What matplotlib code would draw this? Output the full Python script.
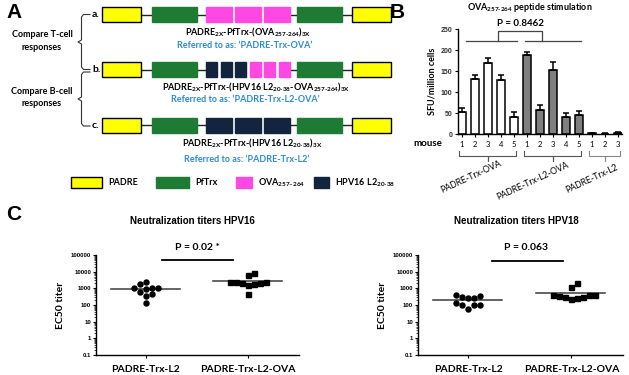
import numpy as np
import matplotlib.pyplot as plt
import matplotlib.transforms as mtrans
from matplotlib.patches import Rectangle
from matplotlib.ticker import FixedLocator, LogLocator, NullFormatter

plt.rcParams['font.family'] = ['Lato', 'DejaVu Sans']
plt.rcParams['mathtext.fontset'] = 'custom'
plt.rcParams['mathtext.rm'] = 'Lato:bold'
plt.rcParams['mathtext.bf'] = 'Lato:bold'

# ---------------- data ----------------
# panel A: construct layouts
constructs = [['PADRE', 'PfTrx', 'OVA', 'OVA', 'OVA', 'PfTrx', 'PADRE'],
              ['PADRE', 'PfTrx', 'L2', 'L2', 'L2', 'OVA', 'OVA', 'OVA', 'PfTrx', 'PADRE'],
              ['PADRE', 'PfTrx', 'L2', 'L2', 'L2', 'PfTrx', 'PADRE']]
construct_names = [r'PADRE$_{\text{2X}}$-PfTrx-(OVA$_{\text{257-264}}$)$_{\text{3X}}$',
                   r'PADRE$_{\text{2X}}$-PfTrx-(HPV16 L2$_{\text{20-38}}$-OVA$_{\text{257-264}}$)$_{\text{3X}}$',
                   r'PADRE$_{\text{2X}}$-PfTrx-(HPV16 L2$_{\text{20-38}}$)$_{\text{3X}}$']
construct_alias = ["Referred to as: \u2018PADRE-Trx-OVA\u2019",
                   "Referred to as: \u2018PADRE-Trx-L2-OVA\u2019",
                   "Referred to as: \u2018PADRE-Trx-L2\u2019"]
legend_labels = ['PADRE', 'PfTrx', 'OVA$_{\\text{257\u2013264}}$', r'HPV16 L2$_{\text{20-38}}$']
legend_keys = ['PADRE', 'PfTrx', 'OVA', 'L2']

# panel B: ELISPOT
group_names = ['PADRE-Trx-OVA', 'PADRE-Trx-L2-OVA', 'PADRE-Trx-L2']
mouse_ids = [['1', '2', '3', '4', '5'], ['1', '2', '3', '4', '5'], ['1', '2', '3']]
sfu_mean = [[54, 132, 170, 129, 42], [189, 58, 153, 42, 46], [2, 1, 4]]
sfu_err = [[8, 8, 10, 12, 12], [6, 12, 18, 8, 9], [1, 1, 2]]
p_elispot = 'P = 0.8462'

# panel C: neutralization titers
titer_groups = ['PADRE-Trx-L2', 'PADRE-Trx-L2-OVA']
hpv16_l2 = [1750, 1000, 2300, 950, 480, 360, 600, 1000, 1100, 125]
hpv16_l2ova = [2500, 2000, 1750, 1500, 6000, 7900, 2000, 2300, 2500, 440]
hpv16_line = [870, 2800]
hpv18_l2 = [320, 360, 250, 400, 250, 100, 57, 100, 130, 100]
hpv18_l2ova = [1150, 2000, 415, 316, 250, 230, 415, 290, 330, 415]
hpv18_line = [200, 530]
p_hpv16 = 'P = 0.02 *'
p_hpv18 = 'P = 0.063'
titer_ticks = [0.1, 1, 10, 100, 1000, 10000, 100000]

# ---------------- style ----------------
colors = {'PADRE': '#ffff00', 'PfTrx': '#1e7b34', 'OVA': '#ff47e3', 'L2': '#13243f'}
blue = '#2b8ad6'

fig = plt.figure(figsize=(6.29, 3.75), dpi=100)
ax0 = fig.add_axes([0, 0, 1, 1])
ax0.set_xlim(0, 629)
ax0.set_ylim(375, 0)
ax0.axis('off')

# ---------------- panel A ----------------
ax0.text(14, 12, 'A', fontsize=15, fontweight='bold', family='Liberation Sans', ha='center', va='center')
row_y = [14.5, 69.5, 125]
box_h = 15
for r, parts in enumerate(constructs):
    y = row_y[r]
    n_epi = sum(p in ('OVA', 'L2') for p in parts)
    epi_w = (84 - (n_epi - 1) * 3.5) / n_epi
    seg_start = {'PADRE': [102, 352], 'PfTrx': [152, 297]}
    seen = {'PADRE': 0, 'PfTrx': 0}
    ex = 206
    prev_end = None
    for p in parts:
        if p in seen:
            x0 = seg_start[p][seen[p]]
            seen[p] += 1
            w = 39 if p == 'PADRE' else 45
        else:
            x0 = ex
            w = epi_w
            ex += epi_w + 3.5
        if prev_end is not None and x0 - prev_end > 4:
            ax0.plot([prev_end, x0], [y, y], color='#222222', lw=1, zorder=1)
        ec = 'black' if p == 'PADRE' else colors[p]
        ax0.add_patch(Rectangle((x0, y - box_h / 2), w, box_h, facecolor=colors[p],
                                edgecolor=ec, lw=1, zorder=2))
        prev_end = x0 + w
    ax0.text(92, y, 'abc'[r] + '.', fontsize=7.5, fontweight='bold', va='center', ha='left')

name_pos = [(248, 32), (256, 87.5), (252, 143)]
alias_pos = [(245, 46), (245, 100), (246.5, 159)]
for r in range(3):
    ax0.text(*name_pos[r], construct_names[r], fontsize=6.5, fontweight='bold', ha='center', va='center')
    ax0.text(*alias_pos[r], construct_alias[r], fontsize=6.5, fontweight='bold', color=blue,
             ha='center', va='center')

# braces on the left
for y0, y1 in [(14.5, 69.5), (72, 126)]:
    ym = (y0 + y1) / 2
    ax0.plot([90, 83.5, 81.5, 81.5, 78, 81.5, 81.5, 83.5, 90],
             [y0, y0, y0 + 2.5, ym - 2, ym, ym + 2, y1 - 2.5, y1, y1],
             color='#333333', lw=0.8)
ax0.text(42, 41, 'Compare T-cell\nresponses', fontsize=6.5, fontweight='bold', ha='center',
         va='center', linespacing=1.5)
ax0.text(42, 97.5, 'Compare B-cell\nresponses', fontsize=6.5, fontweight='bold', ha='center',
         va='center', linespacing=1.5)

# legend
leg_x = [(71, 102), (156, 189), (236, 252), (314, 329)]
for (x0, x1), key, lab in zip(leg_x, legend_keys, legend_labels):
    ec = 'black' if key == 'PADRE' else colors[key]
    ax0.add_patch(Rectangle((x0, 176.5), x1 - x0, 11, facecolor=colors[key], edgecolor=ec, lw=1))
    ax0.text(x1 + 6, 182.5, lab, fontsize=6.5, fontweight='bold', va='center', ha='left')

# ---------------- panel B ----------------
ax0.text(397, 12, 'B', fontsize=15, fontweight='bold', family='Liberation Sans', ha='center', va='center')
ax0.text(530, 8, r'OVA$_{\text{257-264}}$ peptide stimulation', fontsize=6.5, fontweight='bold',
         ha='center', va='center')

axB = fig.add_axes([457.7 / 629, 1 - 134.3 / 375, 164 / 629, 105.3 / 375])
axB.patch.set_alpha(0)
bar_colors = ['white', '#7f7f7f', '#555555']
pos = 0
centers = []
tick_labels = []
for g in range(3):
    xs = np.arange(pos, pos + len(sfu_mean[g]))
    axB.bar(xs, sfu_mean[g], width=0.6, color=bar_colors[g], edgecolor='black', lw=1.1, zorder=2)
    axB.errorbar(xs, sfu_mean[g], yerr=[np.zeros(len(xs)), sfu_err[g]], fmt='none',
                 ecolor='black', elinewidth=1.1, capsize=2.2, capthick=1.1, zorder=3)
    centers.append(xs)
    tick_labels += mouse_ids[g]
    pos += len(sfu_mean[g])
axB.set_xlim(-0.3, 12.3)
axB.set_ylim(0, 250)
axB.set_xticks(np.arange(pos))
axB.set_xticklabels(tick_labels, fontsize=5.5)
axB.set_yticks([0, 50, 100, 150, 200, 250])
axB.tick_params(axis='y', labelsize=5, length=2.5, width=0.8, pad=1.5, labelcolor='#333333')
axB.tick_params(axis='x', length=2.5, width=0.8, pad=2)
for lab in axB.get_yticklabels():
    lab.set_fontweight('bold')
    lab.set_family('Liberation Sans')
axB.spines['top'].set_visible(False)
axB.spines['right'].set_visible(False)
axB.spines['left'].set_linewidth(1)
axB.spines['bottom'].set_linewidth(1)
axB.set_ylabel('SFU/million cells', fontsize=6.5, fontweight='bold', labelpad=3)

# P bracket
axB.plot([0.33, 4.25], [222, 222], color='#444444', lw=0.9, clip_on=False)
axB.plot([4.85, 9.15], [222, 222], color='#444444', lw=0.9, clip_on=False)
axB.plot([2.8, 2.8, 6.2, 6.2], [222, 246, 246, 222], color='#444444', lw=0.9, clip_on=False)
axB.text(4.5, 263, p_elispot, fontsize=7, fontweight='bold', ha='center', va='center', clip_on=False)

# group braces and names
tr = mtrans.blended_transform_factory(axB.transData, ax0.transData)
brace_col = ['#555555', '#555555', '#888888']
name_xy = [(471.5, 177), (532.5, 181.5), (591.5, 179)]
for g in range(3):
    x0 = centers[g][0] - 0.2
    x1 = centers[g][-1] + 0.15
    xm = (centers[g][0] + centers[g][-1]) / 2
    axB.plot([x0, x0, xm - 0.15, xm, xm, xm, xm + 0.15, x1, x1],
             [150.5, 155.5, 155.5, 155.5, 160.5, 155.5, 155.5, 155.5, 150.5],
             color=brace_col[g], lw=0.8, transform=tr, clip_on=False)
    ax0.text(*name_xy[g], group_names[g], fontsize=6.3, rotation=25, ha='center', va='center')
ax0.text(428, 143.3, 'mouse', fontsize=7, fontweight='bold', ha='center', va='center')

# ---------------- panel C ----------------
ax0.text(14, 215, 'C', fontsize=15, fontweight='bold', family='Liberation Sans', ha='center', va='center')


def swarm(vals, px_per_unit, px_per_dec, d=6.0):
    ylog = np.log10(vals) * px_per_dec
    placed = []
    offs = np.zeros(len(vals))
    for i in np.argsort(vals):
        for k in range(30):
            o = ((k + 1) // 2) * d * (1 if k % 2 else -1)
            if all((o - po) ** 2 + (ylog[i] - py) ** 2 >= d * d for po, py in placed):
                break
        placed.append((o, ylog[i]))
        offs[i] = o / px_per_unit
    return offs


def titer_panel(rect, title, title_x, a, b, line_vals, ptext, pline, ptext_x):
    ax = fig.add_axes(rect)
    ax.patch.set_alpha(0)
    ax.set_yscale('log')
    ax.set_ylim(0.1, 100000)
    ax.set_xlim(-0.49, 1.5)
    ppu = rect[2] * 629 / 1.99
    ppd = rect[3] * 375 / 6
    for i, (vals, mk) in enumerate([(a, 'o'), (b, 's')]):
        offs = swarm(vals, ppu, ppd)
        ax.plot(i + offs, vals, mk, color='black', ms=3.6, mec='black', ls='none', zorder=3)
        ax.plot([i - 0.34, i + 0.33], [line_vals[i]] * 2, color='#3a3a3a', lw=1.1, zorder=2)
    ax.plot(pline[0], [pline[1]] * 2, color='black', lw=1.3, clip_on=False)
    ax.text(ptext_x, 248, ptext, fontsize=7.5, fontweight='bold', ha='center', va='center',
            transform=mtrans.blended_transform_factory(ax.transData, ax0.transData))
    ax.yaxis.set_major_locator(FixedLocator(titer_ticks))
    ax.set_yticklabels(['0.1', '1', '10', '100', '1000', '10000', '100000'])
    ax.yaxis.set_minor_locator(LogLocator(base=10, subs=np.arange(2, 10), numticks=20))
    ax.yaxis.set_minor_formatter(NullFormatter())
    ax.tick_params(axis='y', which='major', labelsize=4.3, length=2.5, width=0.8, pad=1)
    ax.tick_params(axis='y', which='minor', length=1.2, width=0.5)
    for lab in ax.get_yticklabels():
        lab.set_fontweight('bold')
        lab.set_family('Liberation Sans')
    ax.set_xticks([0, 1])
    ax.set_xticklabels(titer_groups, fontsize=7.5, fontweight='bold')
    ax.tick_params(axis='x', length=2.5, width=0.8, pad=5)
    ax.spines['top'].set_visible(False)
    ax.spines['right'].set_visible(False)
    ax.spines['left'].set_linewidth(1)
    ax.spines['bottom'].set_linewidth(1)
    ax.set_ylabel('EC50 titer', fontsize=7.5, fontweight='bold', labelpad=4)
    ax0.text(title_x, 221, title, fontsize=7, fontweight='bold', family='Liberation Sans',
             ha='center', va='center')
    return ax


titer_panel([96 / 629, 20 / 375, 203 / 629, 100 / 375], 'Neutralization titers HPV16', 192,
            hpv16_l2, hpv16_l2ova, hpv16_line, p_hpv16, ([0.157, 0.853], 52000), 0.5)
titer_panel([418 / 629, 20 / 375, 205 / 629, 100 / 375], 'Neutralization titers HPV18', 516,
            hpv18_l2, hpv18_l2ova, hpv18_line, p_hpv18, ([0.23, 0.92], 45000), 0.56)

fig.savefig('out.png', dpi=100)
